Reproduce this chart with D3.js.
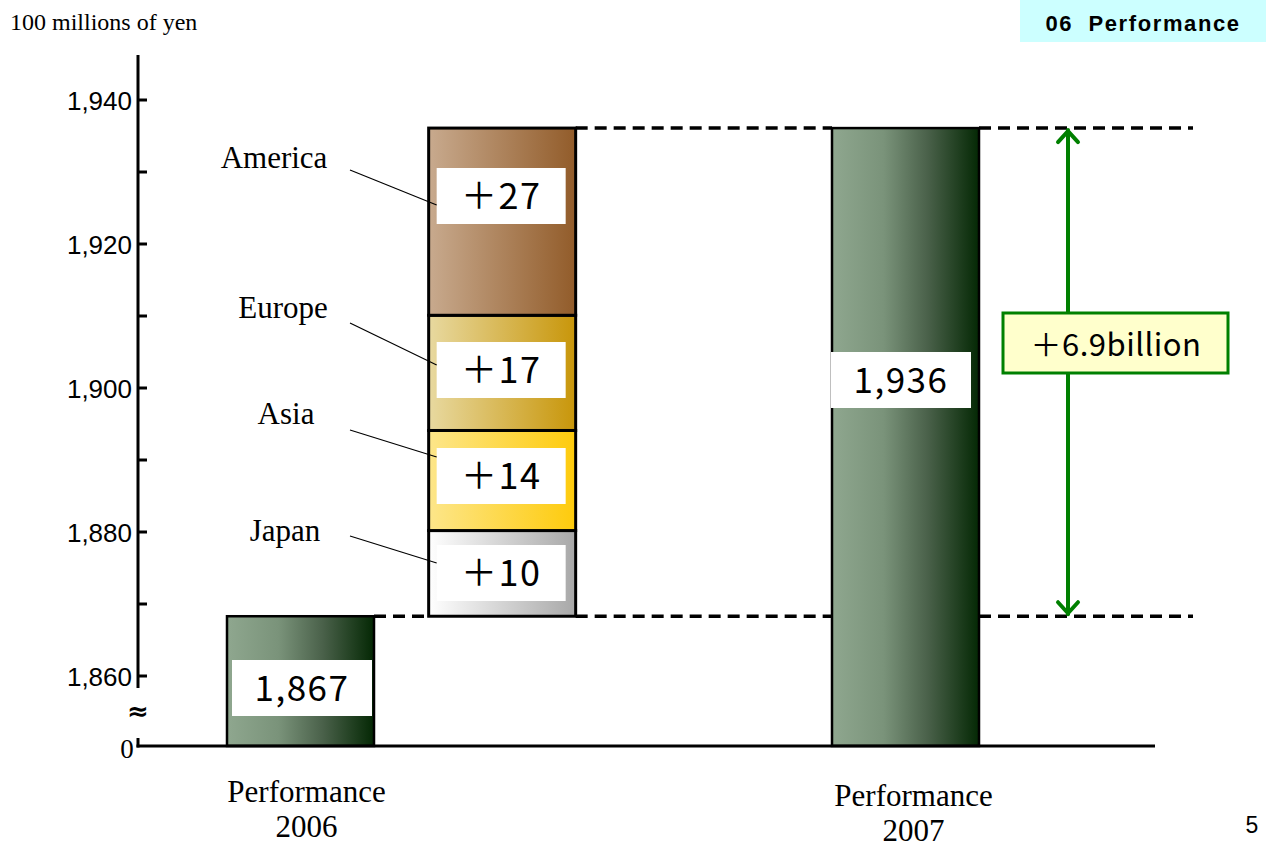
<!DOCTYPE html>
<html>
<head>
<meta charset="utf-8">
<script src="https://cdn.jsdelivr.net/npm/d3@7"></script>
<style>
  body { margin: 0; background: #fff; }
  svg { display: block; }
</style>
</head>
<body>
<div id="chart"></div>
<script>
// Data
const barKeys = ["2006", "change", "gap", "2007"];
const base2006 = 1868.3;          // drawn height of the 2006 bar
const base2006Label = "1,867";
const total2007 = 1936.1;
const total2007Label = "1,936";
const regions = ["Japan", "Asia", "Europe", "America"];
const regionValues = [11.9, 13.9, 16.0, 26.0];
const regionLabels = ["＋10", "＋14", "＋17", "＋27"];
const regionColors = [["#ffffff", "#a8a8a8"], ["#fde68a", "#fecb0c"], ["#e8d9a0", "#c8960a"], ["#c8aa8e", "#925c2a"]];
const majorTicks = [1860, 1880, 1900, 1920, 1940];
const minorTicks = [1870, 1890, 1910, 1930];
const diffLabel = "＋6.9billion";

const width = 1279, height = 847;
const svg = d3.select("#chart").append("svg")
    .attr("width", width).attr("height", height);

const defs = svg.append("defs");
function grad(id, c0, c1) {
    const g = defs.append("linearGradient").attr("id", id)
        .attr("x1", "0%").attr("x2", "100%").attr("y1", "0%").attr("y2", "0%");
    g.append("stop").attr("offset", "0%").attr("stop-color", c0);
    g.append("stop").attr("offset", "100%").attr("stop-color", c1);
}
const gg = defs.append("linearGradient").attr("id", "green")
    .attr("x1", "0%").attr("x2", "100%");
[["0%", "#8fa78f"], ["35%", "#7a937a"], ["65%", "#4a614a"], ["100%", "#042804"]].forEach(s =>
    gg.append("stop").attr("offset", s[0]).attr("stop-color", s[1]));
regionColors.forEach((c, i) => grad("reg" + i, c[0], c[1]));

// Scales
const y = d3.scaleLinear().domain([1860, 1940]).range([676, 100]);
const axisFloor = 1850.28;            // where the broken axis meets "0"
const baseY = y(axisFloor);
const x = d3.scalePoint().domain(barKeys).range([300.5, 905.5]);
const barW = 147;
const axisX = 138;

const serif = "Liberation Serif, 'Times New Roman', serif";
const sans = "Liberation Sans, Arial, sans-serif";
const boxFont = "'Noto Sans CJK JP', 'Noto Sans', sans-serif";

// Header
svg.append("text").attr("x", 10).attr("y", 30)
    .style("font-family", serif).style("font-size", "24px")
    .text("100 millions of yen");
svg.append("rect").attr("x", 1020).attr("y", 0).attr("width", 246).attr("height", 42).attr("fill", "#ccffff");
svg.append("text").attr("x", 1143).attr("y", 31).attr("text-anchor", "middle")
    .style("font-family", sans).style("font-size", "22px").style("font-weight", "bold")
    .style("letter-spacing", "1.6px")
    .attr("xml:space", "preserve")
    .text("06  Performance");
svg.append("text").attr("x", 1252).attr("y", 833).attr("text-anchor", "middle")
    .style("font-family", sans).style("font-size", "23px")
    .text("5");

// Dashed reference lines
const dash = svg.append("g").attr("stroke", "#000").attr("stroke-width", 3.5).attr("stroke-dasharray", "12,7");
const topY = y(total2007), botY = y(base2006);
[[x("change") + barW / 2, x("2007") - barW / 2, topY],
 [x("2007") + barW / 2, 1193, topY],
 [x("2006") + barW / 2, x("change") - barW / 2, botY],
 [x("change") + barW / 2, x("2007") - barW / 2, botY],
 [x("2007") + barW / 2, 1193, botY]].forEach(d =>
    dash.append("line").attr("x1", d[0]).attr("x2", d[1]).attr("y1", d[2]).attr("y2", d[2]));

// Bars 2006 and 2007
const totals = [{k: "2006", v: base2006, label: base2006Label}, {k: "2007", v: total2007, label: total2007Label}];
svg.append("g").selectAll("rect").data(totals).join("rect")
    .attr("x", d => x(d.k) - barW / 2).attr("y", d => y(d.v))
    .attr("width", barW).attr("height", d => baseY - y(d.v))
    .attr("fill", "url(#green)").attr("stroke", "#000").attr("stroke-width", 2.5);

// Stacked increments
let acc = base2006;
const segs = regionValues.map((v, i) => {
    const s = {i, y0: acc, y1: acc + v, name: regions[i], label: regionLabels[i]};
    acc += v;
    return s;
});
const sx = x("change") - barW / 2;
svg.append("g").selectAll("rect").data(segs).join("rect")
    .attr("x", sx).attr("y", d => y(d.y1))
    .attr("width", barW).attr("height", d => y(d.y0) - y(d.y1))
    .attr("fill", d => "url(#reg" + d.i + ")").attr("stroke", "#000").attr("stroke-width", 3);

// Label boxes inside bars
function valueBox(cx, cy, w, txt, fs) {
    svg.append("rect").attr("x", cx - w / 2).attr("y", cy - 28).attr("width", w).attr("height", 56).attr("fill", "#fff");
    svg.append("text").attr("x", cx).attr("y", cy + 13).attr("text-anchor", "middle")
        .style("font-family", boxFont).style("font-size", fs + "px")
        .style("letter-spacing", "1.5px").text(txt);
}
const segBoxY = [573, 476, 370, 196];
segs.forEach((d, i) => valueBox(sx + 72.5, segBoxY[i], 129, d.label, 36));
valueBox(x("2006") + 1.5, 688, 140, base2006Label, 35);
valueBox(x("2007") - 4.5, 380, 140, total2007Label, 35);

// Region names with leader lines
const regionText = [[285, 541], [286, 424], [283, 318], [274, 168]];
const leaderY = [[536, 563], [430, 457], [323, 365], [170, 205]];
segs.forEach((d, i) => {
    svg.append("text").attr("x", regionText[i][0]).attr("y", regionText[i][1]).attr("text-anchor", "middle")
        .style("font-family", serif).style("font-size", "31px").text(d.name);
    svg.append("line").attr("x1", 350).attr("y1", leaderY[i][0]).attr("x2", sx + 8).attr("y2", leaderY[i][1])
        .attr("stroke", "#000").attr("stroke-width", 1.2);
});

// Y axis (broken)
const ax = svg.append("g").attr("stroke", "#000").attr("stroke-width", 3).attr("fill", "none");
ax.append("line").attr("x1", axisX).attr("x2", axisX).attr("y1", 55).attr("y2", 688);
ax.append("line").attr("x1", axisX).attr("x2", axisX).attr("y1", 738).attr("y2", baseY + 1.5);
ax.append("line").attr("x1", axisX - 1.5).attr("x2", 1155).attr("y1", baseY).attr("y2", baseY);
ax.selectAll(".maj").data(majorTicks).join("line")
    .attr("x1", axisX).attr("x2", axisX + 9).attr("y1", d => y(d)).attr("y2", d => y(d));
ax.selectAll(".min").data(minorTicks).join("line").attr("class", "min")
    .attr("x1", axisX).attr("x2", axisX + 9).attr("y1", d => y(d)).attr("y2", d => y(d));
svg.append("g").selectAll("text").data(majorTicks).join("text")
    .attr("x", axisX - 6).attr("y", d => y(d) + 10).attr("text-anchor", "end")
    .style("font-family", sans).style("font-size", "26px")
    .text(d => d3.format(",")(d));
svg.append("text").attr("x", 127).attr("y", 758).attr("text-anchor", "middle")
    .style("font-family", serif).style("font-size", "27px").text("0");
svg.append("text").attr("x", 138).attr("y", 720).attr("text-anchor", "middle")
    .style("font-family", "DejaVu Sans, sans-serif").style("font-size", "26px").style("font-weight", "bold").text("≈");

// Category labels
const catLabels = [{k: "2006", dx: 6, dy: 0, lines: ["Performance", "2006"]},
                   {k: "2007", dx: 8, dy: 4, lines: ["Performance", "2007"]}];
catLabels.forEach(c => {
    c.lines.forEach((t, j) => {
        svg.append("text").attr("x", x(c.k) + c.dx).attr("y", 802 + c.dy + j * 35).attr("text-anchor", "middle")
            .style("font-family", serif).style("font-size", "31px").text(t);
    });
});

// Difference arrow
const arrowX = 1068;
const ar = svg.append("g").attr("stroke", "#008000").attr("stroke-width", 4).attr("fill", "none")
    .attr("stroke-linecap", "round").attr("stroke-linejoin", "round");
ar.append("line").attr("x1", arrowX).attr("x2", arrowX).attr("y1", topY + 2).attr("y2", botY - 2);
ar.append("path").attr("d", `M${arrowX - 10},${topY + 14}L${arrowX},${topY + 3}L${arrowX + 10},${topY + 14}`);
ar.append("path").attr("d", `M${arrowX - 10},${botY - 14}L${arrowX},${botY - 3}L${arrowX + 10},${botY - 14}`);
svg.append("rect").attr("x", 1003).attr("y", 313).attr("width", 225).attr("height", 60)
    .attr("fill", "#ffffcc").attr("stroke", "#008000").attr("stroke-width", 3);
svg.append("text").attr("x", 1116).attr("y", 356).attr("text-anchor", "middle")
    .style("font-family", boxFont).style("font-size", "31px").style("letter-spacing", "0.5px").text(diffLabel);
</script>
</body>
</html>
